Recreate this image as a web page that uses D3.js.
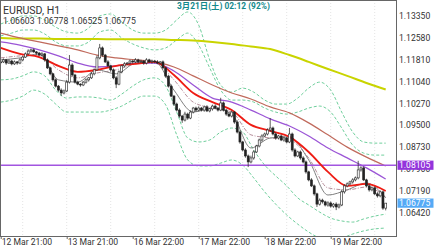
<!DOCTYPE html>
<html>
<head>
<meta charset="utf-8">
<script src="https://cdn.jsdelivr.net/npm/d3@7"></script>
<style>
body { margin: 0; background: #fff; }
svg { display: block; font-family: Roboto, "Noto Sans CJK JP", sans-serif; }
</style>
</head>
<body>
<svg id="chart" width="440" height="248"></svg>
<script>
// ---- data ----
var symbol = "EURUSD, H1";
var lastBar = ["1.06603", "1.06778", "1.06525", "1.06775"];
var clockText = "3月21日(土) 02:12 (92%)";

var firstOpen = 1.1170;
var closes = [
  1.1173,1.1180,1.1169,1.1176,1.1166,1.1173,1.1169,1.1180,1.1190,1.1201,
  1.1211,1.1215,1.1208,1.1204,1.1197,1.1201,1.1180,1.1152,1.1131,1.1110,
  1.1088,1.1074,1.1064,1.1071,1.1102,1.1162,1.1127,1.1102,1.1095,1.1092,
  1.1102,1.1110,1.1117,1.1131,1.1145,1.1187,1.1222,1.1197,1.1173,1.1159,
  1.1145,1.1117,1.1095,1.1138,1.1159,1.1166,1.1169,1.1176,1.1173,1.1180,
  1.1173,1.1176,1.1169,1.1180,1.1173,1.1176,1.1173,1.1169,1.1173,1.1152,
  1.1123,1.1088,1.1053,1.1025,1.1004,1.0983,1.0969,1.0990,1.0976,1.0997,
  1.1011,1.1004,1.1011,1.1004,1.1015,1.1001,1.1008,1.1018,1.1011,1.1004,
  1.1029,1.1004,1.0990,1.0983,1.0997,1.0962,1.0927,1.0892,1.0864,1.0843,
  1.0822,1.0836,1.0857,1.0878,1.0899,1.0913,1.0920,1.0934,1.0941,1.0920,
  1.0906,1.0913,1.0899,1.0906,1.0892,1.0920,1.0864,1.0843,1.0857,1.0836,
  1.0822,1.0787,1.0759,1.0738,1.0710,1.0674,1.0688,1.0682,1.0671,1.0678,
  1.0667,1.0674,1.0664,1.0671,1.0717,1.0738,1.0745,1.0752,1.0759,1.0766,
  1.0794,1.0801,1.0759,1.0738,1.0724,1.0731,1.0710,1.0703,1.0717,1.0660,
  1.06775
];
// wick lengths beyond the body, in pips
var upWick = [
  4,5,3,6,4,5,3,6,4,5, 6,4,5,3,4,6,3,5,4,3, 5,4,6,5,8,35,6,4,5,3,
  4,5,3,6,5,8,14,5,4,6, 4,5,6,5,4,6,3,5,4,6, 4,5,3,6,4,5,4,6,3,5,
  4,5,6,4,5,6,4,8,5,6, 4,5,6,4,5,6,4,5,6,4, 18,5,4,6,5,4,6,5,4,6,
  5,8,6,4,5,6,5,6,35,5, 6,4,5,6,4,21,5,6,4,5, 6,5,4,6,5,4,6,5,4,6,
  5,4,6,5,8,6,5,4,6,5, 32,6,5,4,6,5,4,6,5,4, 0
];
var dnWick = [
  5,4,6,3,5,4,6,4,5,3, 4,5,3,6,4,5,6,4,5,6, 5,6,10,5,4,5,6,5,4,6,
  4,5,6,4,5,4,5,6,4,5, 6,5,14,4,5,6,4,5,6,4, 5,4,6,5,4,6,5,4,6,5,
  6,5,4,6,5,6,10,5,6,4, 5,6,4,5,6,4,5,6,4,5, 4,5,6,4,5,6,5,6,5,6,
  18,5,6,4,5,6,4,5,6,5, 6,5,4,6,5,4,6,5,4,6, 5,6,5,4,6,10,5,6,5,6,
  5,6,11,5,4,6,5,4,6,5, 5,6,4,5,6,5,4,6,5,6, 8
];

// moving averages sampled every 7 bars
var maBars = d3.range(0, 141, 7);
var maYellow = [1.1257,1.1255,1.1255,1.1253,1.1253,1.1253,1.1252,1.1252,1.1252,1.1250,1.1248,1.1243,1.1236,1.1227,1.1218,1.1197,1.1173,1.1148,1.1124,1.1099,1.1076];
var maBrown  = [1.1274,1.1257,1.1243,1.1229,1.1215,1.1197,1.1187,1.1180,1.1173,1.1155,1.1124,1.1092,1.1064,1.1043,1.1015,1.0994,1.0959,1.0917,1.0874,1.0839,1.0808];
var maPurple = [1.1243,1.1232,1.1215,1.1194,1.1169,1.1155,1.1159,1.1169,1.1169,1.1141,1.1092,1.1046,1.1032,1.1004,1.0973,1.0948,1.0913,1.0871,1.0836,1.0801,1.0762];
var maRed    = [1.1222,1.1201,1.1190,1.1159,1.1138,1.1145,1.1159,1.1166,1.1173,1.1127,1.1064,1.1032,1.1004,1.0952,1.0931,1.0910,1.0857,1.0787,1.0738,1.0745,1.0720];
var maGray   = [1.1180,1.1187,1.1201,1.1110,1.1102,1.1145,1.1131,1.1169,1.1173,1.1074,1.0997,1.1011,1.0990,1.0871,1.0906,1.0910,1.0829,1.0706,1.0724,1.0748,1.0696];
var maMid    = [1.1187,1.1194,1.1197,1.1145,1.1117,1.1134,1.1145,1.1166,1.1173,1.1110,1.1032,1.1011,1.0997,1.0917,1.0906,1.0899,1.0836,1.0731,1.0724,1.0734,1.0699];

// bollinger bands sampled every 4 bars
var bandBars = d3.range(0, 141, 4);
var bandUp3 = [1.1306,1.1320,1.1334,1.1334,1.1320,1.1295,1.1278,1.1274,1.1292,1.1334,1.1341,1.1313,1.1285,1.1274,1.1274,1.1285,1.1320,1.1348,1.1302,1.1180,1.1092,1.1067,1.1081,1.1067,1.1039,1.1025,1.1025,1.1046,1.1081,1.1102,1.1074,1.0997,1.0927,1.0892,1.0888,1.0888];
var bandUp2 = [1.1264,1.1274,1.1285,1.1285,1.1271,1.1243,1.1229,1.1229,1.1243,1.1278,1.1285,1.1257,1.1236,1.1222,1.1215,1.1222,1.1250,1.1274,1.1232,1.1152,1.1074,1.1039,1.1039,1.1032,1.1011,1.0997,1.0990,1.0997,1.1011,1.1018,1.0997,1.0941,1.0881,1.0853,1.0846,1.0846];
var bandDn2 = [1.1110,1.1113,1.1124,1.1138,1.1124,1.1074,1.1046,1.1050,1.1050,1.1046,1.1039,1.1060,1.1088,1.1110,1.1117,1.1088,1.0997,1.0906,1.0892,1.0899,1.0927,1.0941,1.0927,1.0864,1.0811,1.0773,1.0738,1.0696,1.0671,1.0646,1.0625,1.0615,1.0611,1.0622,1.0632,1.0639];
var bandDn3 = [1.1032,1.1039,1.1053,1.1074,1.1060,1.1025,1.0997,1.0997,1.0997,1.0997,1.1004,1.1018,1.1039,1.1053,1.1053,1.1022,1.0917,1.0829,1.0808,1.0808,1.0818,1.0829,1.0811,1.0766,1.0717,1.0674,1.0636,1.0604,1.0576,1.0555,1.0548,1.0555,1.0569,1.0580,1.0587,1.0590];

var priceTicks = [1.13350,1.12580,1.11810,1.11040,1.10270,1.09500,1.08730,1.07960,1.07190,1.06420];
var levelLine = 1.08105;
var timeLabels = ["12 Mar 21:00","13 Mar 21:00","16 Mar 22:00","17 Mar 22:00","18 Mar 22:00","19 Mar 22:00"];
var timeBars = [0, 24, 48, 72, 96, 120];

// ---- drawing ----
var svg = d3.select("#chart");
var plotW = 396, plotH = 236;

var x = d3.scaleLinear().domain([0, 140]).range([0.7, 385.7]);
var y = d3.scaleLinear().domain([1.05622, 1.13901]).range([plotH, 0]);

svg.append("defs").append("clipPath").attr("id", "plot")
  .append("rect").attr("width", plotW).attr("height", plotH);

var plot = svg.append("g").attr("clip-path", "url(#plot)");

// vertical dotted grid every 16 bars
plot.selectAll(".grid")
  .data(d3.range(8, 141, 16))
  .enter().append("line")
    .attr("x1", function(d) { return x(d); })
    .attr("x2", function(d) { return x(d); })
    .attr("y1", 0).attr("y2", plotH)
    .attr("stroke", "#e4e4e4")
    .attr("stroke-dasharray", "1,2");

function drawLine(bars, vals, color, width, dash) {
  var line = d3.line()
    .x(function(d, i) { return x(bars[i]); })
    .y(function(d) { return y(d); })
    .curve(d3.curveMonotoneX);
  plot.append("path")
    .datum(vals)
    .attr("d", line)
    .attr("fill", "none")
    .attr("stroke", color)
    .attr("stroke-width", width)
    .attr("stroke-dasharray", dash || null);
}

var green = "#6fcf9c";
drawLine(bandBars, bandUp3, green, 1, "3,2");
drawLine(bandBars, bandUp2, green, 1, "3,2");
drawLine(bandBars, bandDn2, green, 1, "3,2");
drawLine(bandBars, bandDn3, green, 1, "3,2");

drawLine(maBars, maYellow, "#c9d400", 2);
drawLine(maBars, maBrown, "#c06a5c", 1.2);
drawLine(maBars, maPurple, "#9b55d6", 1.3);
drawLine(maBars, maMid, "#b7909c", 1, "4,1.5,1,1.5");
drawLine(maBars, maGray, "#808080", 1);

// level line
plot.append("line")
  .attr("x1", 0).attr("x2", plotW)
  .attr("y1", y(levelLine)).attr("y2", y(levelLine))
  .attr("stroke", "#a255e0").attr("stroke-width", 1.5);

drawLine(maBars, maRed, "#ee1c14", 1.8);

// candles
var candles = closes.map(function(c, i) {
  var o = i === 0 ? firstOpen : closes[i - 1];
  return {
    i: i, o: o, c: c,
    h: Math.max(o, c) + upWick[i] * 0.0001,
    l: Math.min(o, c) - dnWick[i] * 0.0001
  };
});

var cg = plot.selectAll(".candle")
  .data(candles)
  .enter().append("g");

cg.append("line")
  .attr("x1", function(d) { return x(d.i); })
  .attr("x2", function(d) { return x(d.i); })
  .attr("y1", function(d) { return y(d.h); })
  .attr("y2", function(d) { return y(d.l); })
  .attr("stroke", "#333").attr("stroke-width", 0.8);

cg.append("rect")
  .attr("x", function(d) { return x(d.i) - 1; })
  .attr("width", 2)
  .attr("y", function(d) { return y(Math.max(d.o, d.c)); })
  .attr("height", function(d) { return Math.max(0.8, Math.abs(y(d.o) - y(d.c))); })
  .attr("fill", function(d) { return d.c >= d.o ? "#fff" : "#222"; })
  .attr("stroke", "#222").attr("stroke-width", 0.6);

// frame
svg.append("rect")
  .attr("x", 0.5).attr("y", 0.5)
  .attr("width", plotW).attr("height", plotH)
  .attr("fill", "none").attr("stroke", "#666").attr("stroke-width", 1);

// price axis labels
svg.selectAll(".ptick")
  .data(priceTicks)
  .enter().append("text")
    .attr("x", 399)
    .attr("y", function(d) { return y(d); })
    .attr("dy", "0.35em")
    .style("font-size", "8.6px")
    .attr("fill", "#333")
    .text(function(d) { return d.toFixed(5); });

function priceBox(v, bg) {
  svg.append("rect")
    .attr("x", 397.5).attr("y", y(v) - 4.6)
    .attr("width", 36).attr("height", 9.2)
    .attr("fill", bg);
  svg.append("text")
    .attr("x", 399).attr("y", y(v)).attr("dy", "0.35em")
    .style("font-size", "8.6px").attr("fill", "#fff")
    .text(v.toFixed(5));
}
priceBox(levelLine, "#9334dc");
priceBox(closes[closes.length - 1], "#55aaf6");

// time axis
svg.selectAll(".tick")
  .data(timeBars)
  .enter().append("line")
    .attr("x1", function(d) { return x(d) + 0.5; })
    .attr("x2", function(d) { return x(d) + 0.5; })
    .attr("y1", plotH).attr("y2", plotH + 3)
    .attr("stroke", "#666");

svg.selectAll(".tlabel")
  .data(timeLabels)
  .enter().append("text")
    .attr("x", function(d, i) { return x(timeBars[i]) + 1; })
    .attr("y", 244.5)
    .style("font-size", "8.6px")
    .attr("fill", "#333")
    .text(function(d) { return d; });

// header
svg.append("text").attr("x", 3).attr("y", 13.5)
  .style("font-size", "10.6px").attr("fill", "#333").text(symbol);
svg.append("text").attr("x", 3).attr("y", 23.5)
  .style("font-size", "8.7px").attr("fill", "#333").text(lastBar.join(" "));
svg.append("text").attr("x", 177).attr("y", 8.5)
  .style("font-size", "8.4px").style("font-weight", "bold")
  .attr("fill", "#12898c").text(clockText);
</script>
</body>
</html>
